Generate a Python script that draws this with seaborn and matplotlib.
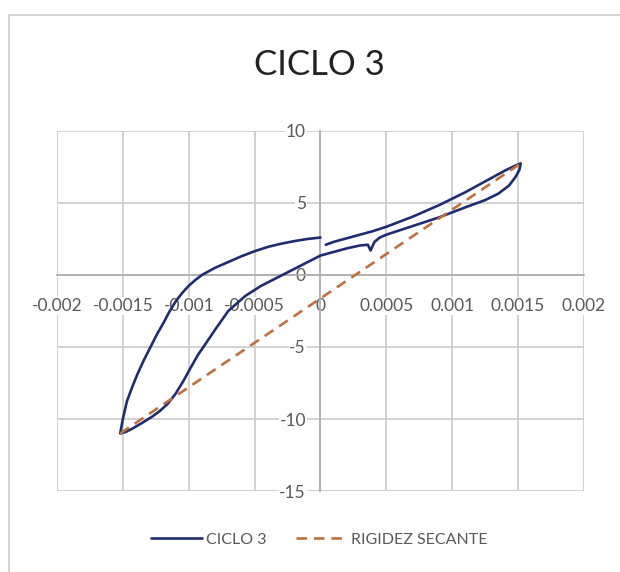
import numpy as np
import pandas as pd
import matplotlib
matplotlib.use("Agg")
import matplotlib.pyplot as plt
import seaborn as sns
from matplotlib.patches import Rectangle

# CICLO 3 loop (deformation, load) in drawing order
ciclo_x = [0.00004, 0.0001, 0.0002, 0.0003, 0.0004, 0.0005, 0.0006, 0.0007,
           0.0008, 0.0009, 0.001, 0.0011, 0.0012, 0.0013, 0.0014, 0.00148,
           0.00152,
           0.00151, 0.00148, 0.00143, 0.00135, 0.00125, 0.0011, 0.001, 0.0009,
           0.0008, 0.0007, 0.0006, 0.0005, 0.00045, 0.00041, 0.00038, 0.00036,
           0.0003, 0.0002, 0.0001, 0.0, -0.00015, -0.0003, -0.00045, -0.00057,
           -0.0007, -0.0008, -0.00087, -0.00093, -0.00098, -0.00104, -0.0011,
           -0.00116, -0.00122, -0.00128, -0.00135, -0.00143, -0.00148, -0.00152,
           -0.0015, -0.00147, -0.00143, -0.00139, -0.00134, -0.00129, -0.00124,
           -0.00119, -0.00115, -0.0011, -0.00105, -0.001, -0.00095, -0.0009,
           -0.00085, -0.0008, -0.0007, -0.0006, -0.0005, -0.0004, -0.0003,
           -0.0002, -0.0001, 0.0]
ciclo_y = [2.1, 2.3, 2.55, 2.8, 3.05, 3.35, 3.7, 4.05,
           4.45, 4.85, 5.3, 5.75, 6.25, 6.75, 7.25, 7.6,
           7.75,
           7.3, 6.8, 6.2, 5.65, 5.2, 4.7, 4.35, 4.0,
           3.7, 3.4, 3.1, 2.8, 2.6, 2.3, 1.7, 2.1,
           2.05, 1.85, 1.6, 1.35, 0.65, -0.05, -0.75, -1.45,
           -2.5, -3.8, -4.75, -5.55, -6.35, -7.35, -8.25,
           -8.95, -9.45, -9.85, -10.25, -10.68, -10.9, -11.0,
           -10.0, -8.8, -7.8, -6.9, -5.9, -5.0, -4.1,
           -3.3, -2.6, -1.85, -1.25, -0.75, -0.35, 0.0,
           0.25, 0.5, 0.9, 1.3, 1.65, 1.95, 2.17,
           2.35, 2.5, 2.6]

# secant stiffness line between the two peaks
secante_x = [-0.00152, 0.00152]
secante_y = [-11.0, 7.75]

xticks = [-0.002, -0.0015, -0.001, -0.0005, 0, 0.0005, 0.001, 0.0015, 0.002]
xlabels = ["-0.002", "-0.0015", "-0.001", "-0.0005", "0", "0.0005", "0.001", "0.0015", "0.002"]
yticks = [-15, -10, -5, 0, 5, 10]
ylabels = ["-15", "-10", "-5", "0", "5", "10"]

df_ciclo = pd.DataFrame({"x": ciclo_x, "y": ciclo_y})
df_sec = pd.DataFrame({"x": secante_x, "y": secante_y})

sns.set_style("white")
plt.rcParams["font.family"] = ["Lato", "DejaVu Sans"]

fig = plt.figure(figsize=(6.2, 5.72), dpi=100)
ax = fig.add_axes([0.0919, 0.1416, 0.85, 0.6294])

sns.lineplot(data=df_ciclo, x="x", y="y", sort=False, estimator=None,
             color="#1F2D70", linewidth=1.9, label="CICLO 3", ax=ax, zorder=3)
sns.lineplot(data=df_sec, x="x", y="y", sort=False, estimator=None,
             color="#C07040", linewidth=1.9, linestyle=(0, (4, 2.6)),
             label="RIGIDEZ SECANTE", ax=ax, zorder=4)

ax.set_xlim(-0.002, 0.002)
ax.set_ylim(-15, 10)
ax.set_xticks(xticks)
ax.set_xticklabels(xlabels)
ax.set_yticks(yticks)
ax.set_yticklabels(ylabels)
ax.set_xlabel("")
ax.set_ylabel("")

# gridlines make the outer box, axes cross at zero like in Excel
ax.grid(True, color="#cfcfcf", linewidth=1.3)
ax.set_axisbelow(True)
for s in ["top", "right"]:
    ax.spines[s].set_visible(False)
ax.spines["left"].set_position(("data", 0))
ax.spines["bottom"].set_position(("data", 0))
ax.spines["left"].set_color("#b0b0b0")
ax.spines["bottom"].set_color("#b0b0b0")
ax.spines["left"].set_linewidth(1.3)
ax.spines["bottom"].set_linewidth(1.3)
ax.spines["left"].set_zorder(2)
ax.spines["bottom"].set_zorder(2)

ax.tick_params(axis="x", direction="inout", length=5, color="#b0b0b0",
               labelsize=12.5, labelcolor="#595959", pad=14)
ax.tick_params(axis="y", direction="inout", length=5, color="#b0b0b0",
               labelsize=12.5, labelcolor="#595959", pad=8)
for t in ax.get_xticklabels() + ax.get_yticklabels():
    t.set_bbox(dict(facecolor="white", edgecolor="none", pad=0.5))

# legend under the plot
handles, labels = ax.get_legend_handles_labels()
ax.get_legend().remove()
fig.legend(handles, labels, loc="center", bbox_to_anchor=(0.515, 0.056),
           ncol=2, frameon=False, fontsize=11.5, handlelength=3.2,
           handletextpad=0.2, columnspacing=1.9, labelcolor="#595959")

fig.text(0.516, 0.886, "CICLO 3", ha="center", va="center",
         fontsize=25, color="#222222")

# light chart-area border (left and top only visible)
fig.patches.append(Rectangle((8.5 / 620, -0.1), 1.2, 1.1 - 15 / 572,
                             transform=fig.transFigure, fill=False,
                             edgecolor="#d4d4d4", linewidth=1.5))

fig.savefig("out.png", dpi=100, facecolor="white")
